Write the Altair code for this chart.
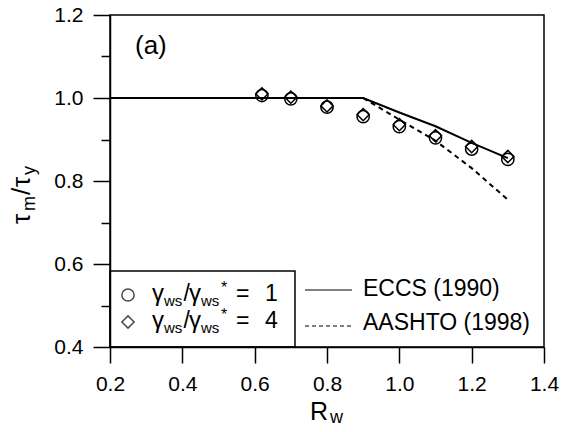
import altair as alt
import pandas as pd

# ---------------- data ----------------
rw_test = [0.62, 0.70, 0.80, 0.90, 1.00, 1.10, 1.20, 1.30]
ratio_g1 = [1.006, 0.998, 0.978, 0.955, 0.931, 0.904, 0.877, 0.852]   # gamma_ws/gamma_ws* = 1 (circles)
ratio_g4 = [1.010, 1.002, 0.981, 0.960, 0.936, 0.909, 0.883, 0.859]   # gamma_ws/gamma_ws* = 4 (diamonds)

eccs_rw = [0.2, 0.9, 1.0, 1.1, 1.2, 1.3]
eccs_val = [1.0, 1.0, 0.965, 0.932, 0.892, 0.855]

aashto_rw = [0.9, 1.0, 1.1, 1.2, 1.3]
aashto_val = [1.0, 0.948, 0.897, 0.831, 0.755]

x_ticks = [0.2, 0.3, 0.4, 0.5, 0.6, 0.7, 0.8, 0.9, 1.0, 1.1, 1.2, 1.3, 1.4]
y_ticks = [0.4, 0.5, 0.6, 0.7, 0.8, 0.9, 1.0, 1.1, 1.2]

# ---------------- layout ----------------
FONT = "Liberation Sans"
LEFT, TOP = 110, 15
W, H = 434, 332

pts = pd.DataFrame({
    "Rw": rw_test * 2,
    "ratio": ratio_g1 + ratio_g4,
    "series": ["g1"] * len(rw_test) + ["g4"] * len(rw_test),
})
eccs = pd.DataFrame({"Rw": eccs_rw, "ratio": eccs_val})
aashto = pd.DataFrame({"Rw": aashto_rw, "ratio": aashto_val})
one = pd.DataFrame({"k": [0]})

major_test = "round(datum.value*10) % 2 == 0"
lab_expr = f"{major_test} ? format(datum.value, '.1f') : ''"

xscale = alt.Scale(domain=[0.2, 1.4], nice=False, zero=False)
yscale = alt.Scale(domain=[0.4, 1.2], nice=False, zero=False)

xaxis = alt.Axis(values=x_ticks, labelExpr=lab_expr, title=None, grid=False,
                 tickSize={"condition": {"test": major_test, "value": 16}, "value": 8},
                 tickColor="black", tickWidth=1.5, domainColor="black", domainWidth=1.5,
                 labelFont=FONT, labelFontSize=21, labelColor="black", labelPadding=10,
                 labelFlush=False, labelOverlap=False, labelBound=False)
yaxis = alt.Axis(values=y_ticks, labelExpr=lab_expr, title=None, grid=False,
                 tickSize={"condition": {"test": major_test, "value": 17}, "value": 9},
                 tickColor="black", tickWidth=1.5, domainColor="black", domainWidth=1.5,
                 labelFont=FONT, labelFontSize=21, labelColor="black", labelPadding=10,
                 labelFlush=False, labelOverlap=False, labelBound=False)

eccs_line = alt.Chart(eccs).mark_line(color="black", strokeWidth=2).encode(
    x=alt.X("Rw:Q", scale=xscale, axis=xaxis),
    y=alt.Y("ratio:Q", scale=yscale, axis=yaxis),
)
aashto_line = alt.Chart(aashto).mark_line(color="black", strokeWidth=2, strokeDash=[5, 4]).encode(
    x=alt.X("Rw:Q", scale=xscale),
    y=alt.Y("ratio:Q", scale=yscale),
)
markers = alt.Chart(pts).mark_point(color="black", filled=False, size=150, strokeWidth=1.5, opacity=1).encode(
    x=alt.X("Rw:Q", scale=xscale),
    y=alt.Y("ratio:Q", scale=yscale),
    shape=alt.Shape("series:N", scale=alt.Scale(domain=["g1", "g4"], range=["circle", "diamond"]), legend=None),
)


def txt(s, x, y, size, angle=0):
    kw = dict(text=s, font=FONT, fontSize=size, align="left", baseline="alphabetic", color="black")
    if angle:
        kw["angle"] = angle
    return alt.Chart(one).mark_text(**kw).encode(x=alt.value(x - LEFT), y=alt.value(y - TOP))


layers = [eccs_line, aashto_line, markers]

# legend box
layers.append(alt.Chart(one).mark_rect(fill="white", fillOpacity=0, stroke="black", strokeWidth=1.5).encode(
    x=alt.value(110 - LEFT), x2=alt.value(295 - LEFT), y=alt.value(271 - TOP), y2=alt.value(347 - TOP)))
layers.append(alt.Chart(one).mark_point(shape="circle", color="black", filled=False, size=150, strokeWidth=1.5).encode(
    x=alt.value(128 - LEFT), y=alt.value(295 - TOP)))
layers.append(alt.Chart(one).mark_point(shape="diamond", color="black", filled=False, size=150, strokeWidth=1.5).encode(
    x=alt.value(128 - LEFT), y=alt.value(322 - TOP)))

for base, num in [(301, "1"), (328, "4")]:
    layers += [
        txt("γ", 152, base, 24),
        txt("ws", 164, base + 5, 15),
        txt("/", 183.5, base, 23),
        txt("γ", 189, base, 24),
        txt("ws", 201, base + 5, 15),
        txt("*", 221, base - 8, 16),
        txt("=", 236, base, 23),
        txt(num, 265, base, 23),
    ]

# line legend
layers.append(alt.Chart(one).mark_rule(color="black", strokeWidth=1).encode(
    x=alt.value(305 - LEFT), x2=alt.value(352 - LEFT), y=alt.value(290 - TOP)))
layers.append(alt.Chart(one).mark_rule(color="black", strokeWidth=1, strokeDash=[4, 3]).encode(
    x=alt.value(305 - LEFT), x2=alt.value(352 - LEFT), y=alt.value(326 - TOP)))
layers += [txt("ECCS (1990)", 363, 296, 23), txt("AASHTO (1998)", 363, 330, 23)]

# panel label
layers.append(txt("(a)", 135, 54, 26))

# x title R_w
layers += [txt("R", 310, 420, 25), txt("w", 330, 423, 18)]

# y title tau_m / tau_y (rotated)
layers += [
    txt("τ", 30, 224, 26, 270),
    txt("m", 35, 211, 18, 270),
    txt("/", 30, 195, 26, 270),
    txt("τ", 30, 187, 26, 270),
    txt("y", 35, 175, 18, 270),
]

chart = alt.layer(*layers).properties(
    width=W, height=H,
    autosize=alt.AutoSizeParams(type="none"),
    padding={"left": LEFT, "top": TOP, "right": 563 - LEFT - W, "bottom": 432 - TOP - H},
    background="white",
).configure_view(stroke="black", strokeWidth=1.5)

chart.save("out.html", embed_options={"renderer": "svg", "actions": False})
